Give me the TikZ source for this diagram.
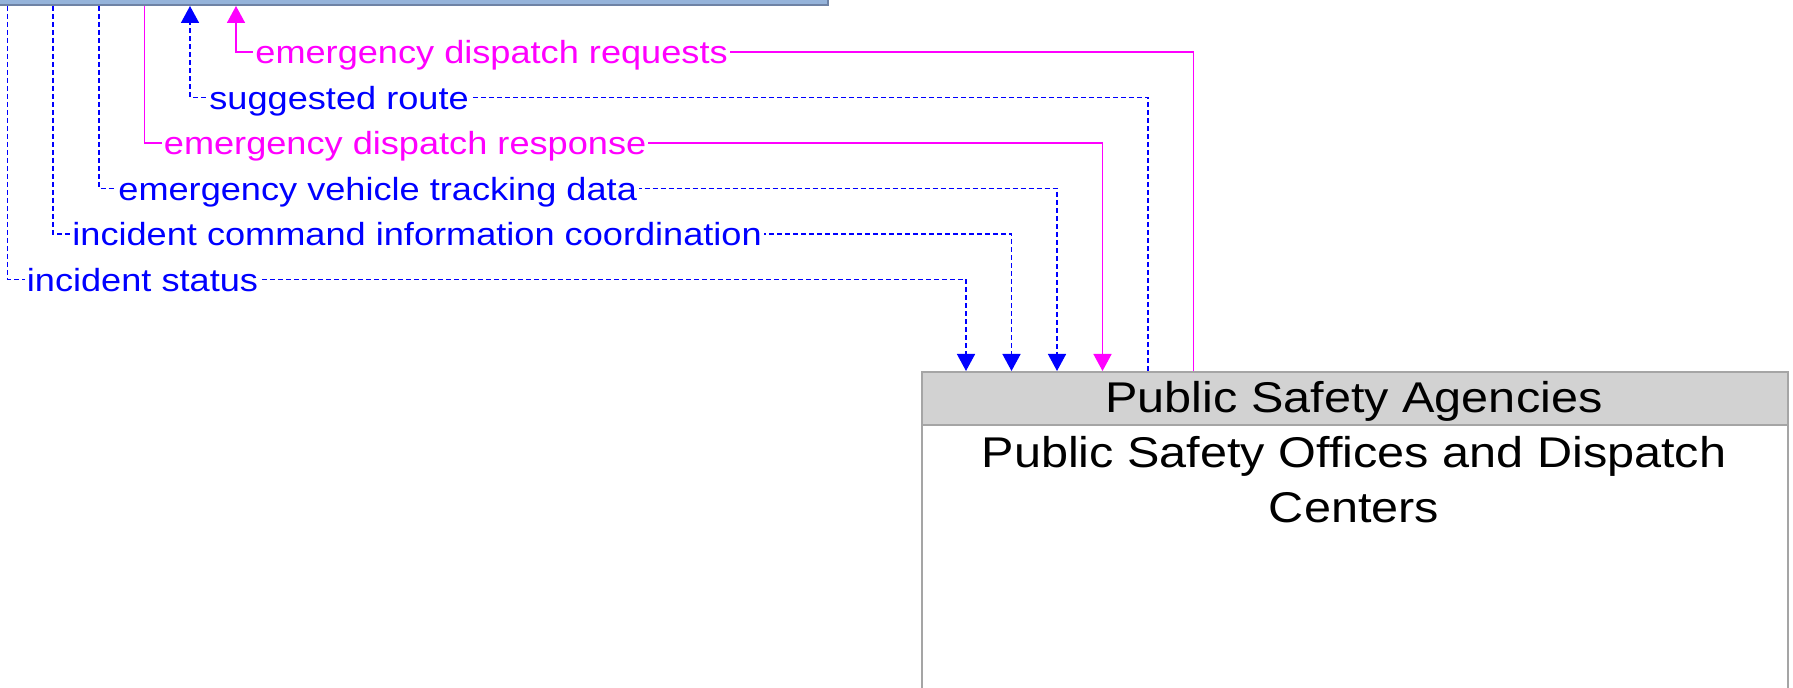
\documentclass[tikz,border=0pt]{standalone}
\usepackage{fontspec}
\setmainfont{Liberation Sans}[FakeStretch=1.13]
\usetikzlibrary{arrows.meta}
\definecolor{topfill}{RGB}{149,179,218}
\definecolor{topedge}{RGB}{110,130,165}
\definecolor{hdrfill}{RGB}{210,210,210}
\definecolor{boxedge}{RGB}{165,165,165}
\definecolor{flowblue}{RGB}{0,0,255}
\definecolor{flowpink}{RGB}{255,0,255}
\tikzset{
  bluedash/.style={draw=flowblue, line width=0.75pt, dash pattern=on 2.5pt off 1.5pt},
  pinkline/.style={draw=flowpink, line width=0.8pt},
  flowtip/.style={-{Triangle[width=9pt,length=8.5pt]}},
  flowlabel/.style={font=\fontsize{16}{19}\selectfont, fill=white, inner sep=1pt, anchor=base west},
  topbox/.style={draw=topedge, fill=topfill, line width=1pt, inner sep=0pt},
  hdrbox/.style={draw=boxedge, fill=hdrfill, line width=1pt, inner sep=0pt},
  bodybox/.style={draw=boxedge, fill=white, line width=1pt, inner sep=0pt},
  bigtext/.style={font=\fontsize{21.5}{27.5}\selectfont, inner sep=0pt},
}
\begin{document}
\begin{tikzpicture}[x=0.5pt,y=-0.5pt]
\clip (0,0) rectangle (1793,688);
% boxes
\node[topbox, anchor=south east, minimum width=430pt, minimum height=20pt] (top) at (829,6) {};
\node[bodybox, anchor=north west, minimum width=433pt, minimum height=200pt] (psabody) at (921,424) {};
\node[hdrbox, anchor=north west, minimum width=433pt, minimum height=26.5pt] (psa) at (921,371) {};
\node[bigtext, anchor=base] (psaname) at (1354,413) {Public Safety Agencies};
\node[bigtext, anchor=base, align=center] (psadesc) at (1354,523) {Public Safety Offices and Dispatch\\Centers};
% coordinates
\coordinate (l1) at (7.5,279.5);  \coordinate (r1) at (966,279.5);
\coordinate (l2) at (53,234);     \coordinate (r2) at (1011.5,234);
\coordinate (l3) at (99,188.5);   \coordinate (r3) at (1057,188.5);
\coordinate (l4) at (144.5,143);  \coordinate (r4) at (1102.5,143);
\coordinate (l5) at (190,97.5);   \coordinate (r5) at (1148,97.5);
\coordinate (l6) at (236,52);     \coordinate (r6) at (1193.5,52);
% connectors
\draw[bluedash, flowtip] (top.south -| l1) -- (l1) -- (r1) -- (psa.north -| r1);
\draw[bluedash, flowtip] (top.south -| l2) -- (l2) -- (r2) -- (psa.north -| r2);
\draw[bluedash, flowtip] (top.south -| l3) -- (l3) -- (r3) -- (psa.north -| r3);
\draw[pinkline, flowtip] (top.south -| l4) -- (l4) -- (r4) -- (psa.north -| r4);
\draw[bluedash, flowtip] (psa.north -| r5) -- (r5) -- (l5) -- (top.south -| l5);
\draw[pinkline, flowtip] (psa.north -| r6) -- (r6) -- (l6) -- (top.south -| l6);
% labels
\node[flowlabel, text=flowblue] (f1) at (24.5,291.5) {incident status};
\node[flowlabel, text=flowblue] (f2) at (70,246) {incident command information coordination};
\node[flowlabel, text=flowblue] (f3) at (116,200.5) {emergency vehicle tracking data};
\node[flowlabel, text=flowpink] (f4) at (161.5,155) {emergency dispatch response};
\node[flowlabel, text=flowblue] (f5) at (207,109.5) {suggested route};
\node[flowlabel, text=flowpink] (f6) at (253,64) {emergency dispatch requests};
\end{tikzpicture}
\end{document}
